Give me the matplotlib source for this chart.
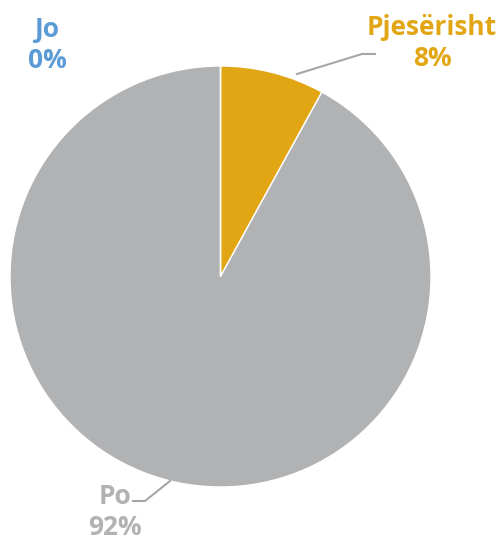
import matplotlib
matplotlib.use("Agg")
import matplotlib.pyplot as plt

labels = ["Pjesërisht", "Po", "Jo"]
values = [8, 92, 0]
colors = ["#E2A614", "#B1B2B4", "#5B9BD5"]

W, H = 499, 540
fig = plt.figure(figsize=(W / 100, H / 100), dpi=100)
ax = fig.add_axes([0, 0, 1, 1])

cx, cy, r = 220.5, H - 276.5, 210.5
ax.pie(values, colors=colors, startangle=90, counterclock=False,
       center=(cx, cy), radius=r, frame=True,
       wedgeprops=dict(edgecolor="white", linewidth=1))
ax.set_xlim(0, W)
ax.set_ylim(0, H)
ax.set_aspect("equal")
ax.axis("off")

font = ["Open Sans", "DejaVu Sans"]
fs = 19

def lab(x, y, txt, color):
    ax.text(x, H - y, txt, ha="center", va="center", color=color,
            fontsize=fs, fontweight="bold", family=font, linespacing=1.2)

lab(47, 45, f"{labels[2]}\n{values[2]}%", colors[2])
lab(432, 43, f"{labels[0]}\n{values[0]}%", colors[0])
lab(115, 512, f"{labels[1]}\n{values[1]}%", colors[1])

lc = "#A6A6A6"
ax.plot([297, 362, 375], [H - 74, H - 54, H - 54], color=lc, lw=1.5)
ax.plot([170, 145, 133], [H - 481, H - 501, H - 501], color=lc, lw=1.5)

fig.savefig("out.png", dpi=100)
